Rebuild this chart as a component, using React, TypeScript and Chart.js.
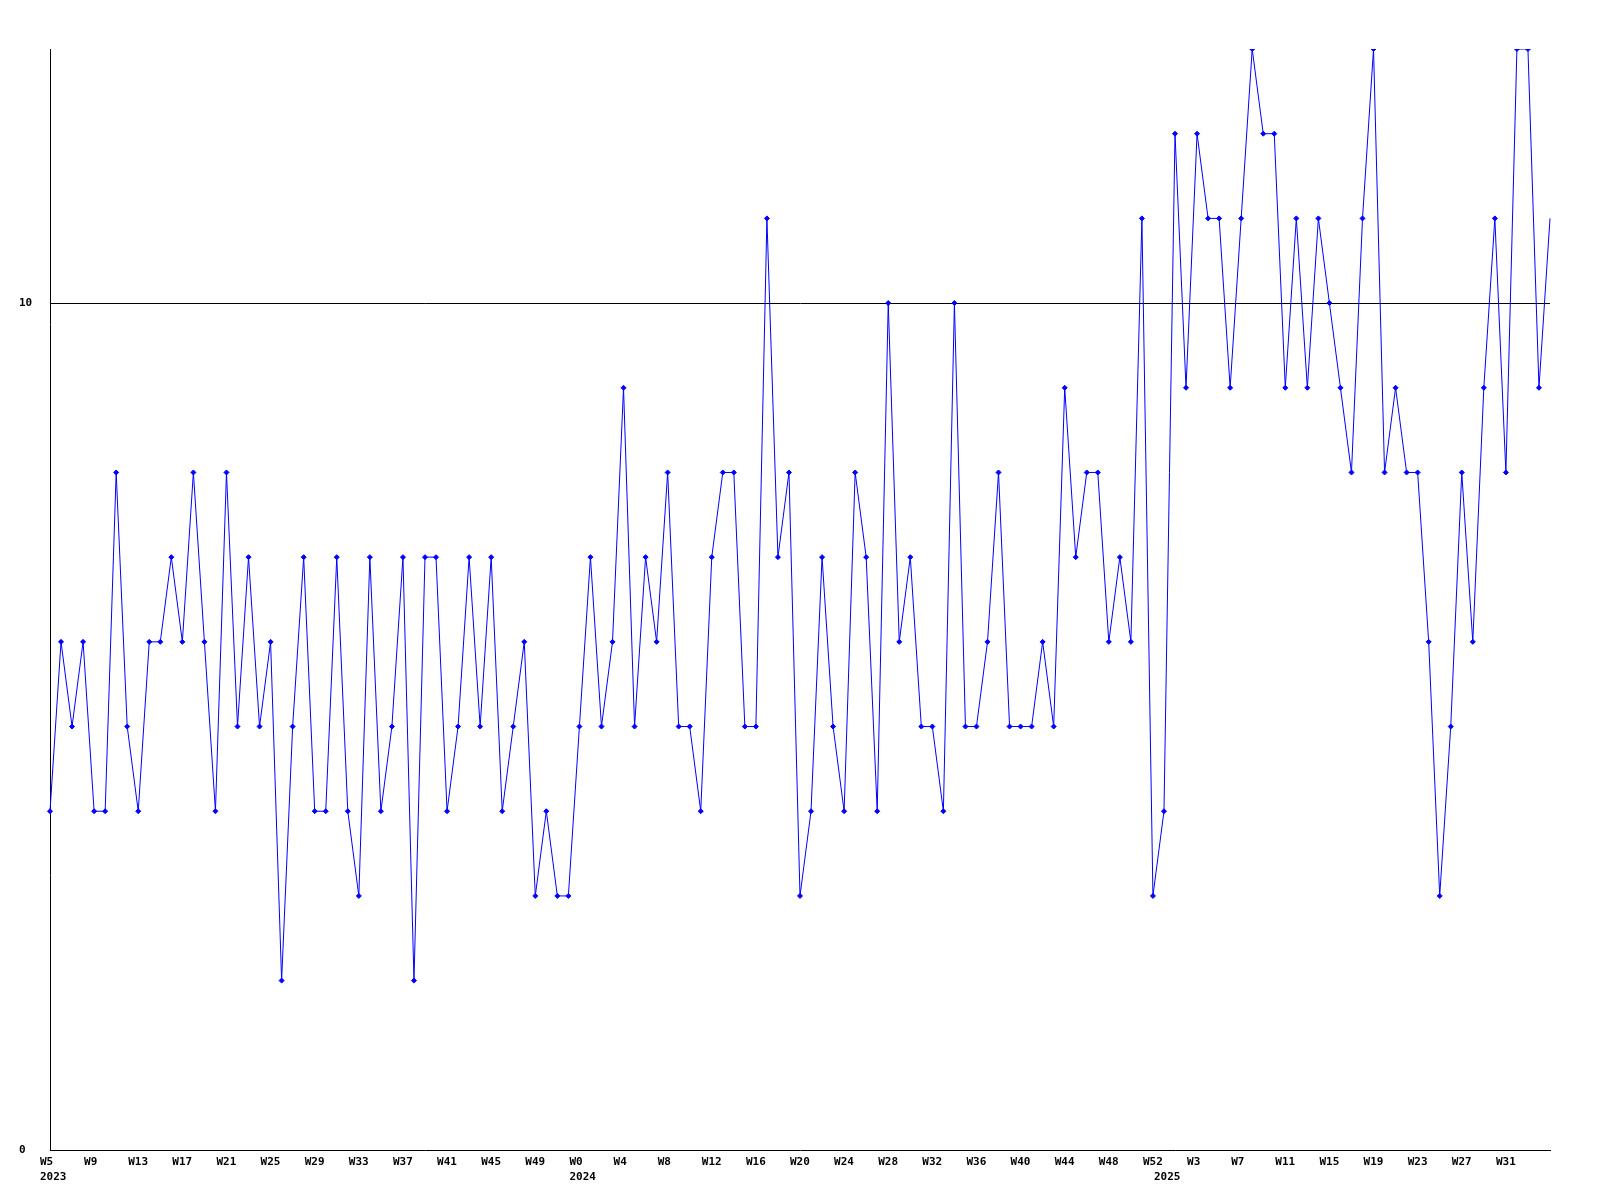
import React, { useEffect, useRef } from "react";
import { Chart, registerables } from "chart.js";

Chart.register(...registerables);

// Year segments of the weekly x axis
const years = ["2023", "2024", "2025"];
const firstWeeks = [5, 0, 0];
const weekCounts = [48, 53, 36];

// Weekly values
const values = [
  4, 6, 5, 6, 4, 4, 8, 5, 4, 6, 6, 7, 6, 8, 6, 4, 8, 5, 7, 5, 6, 2, 5, 7, 4, 4, 7, 4,
  3, 7, 4, 5, 7, 2, 7, 7, 4, 5, 7, 5, 7, 4, 5, 6, 3, 4, 3, 3, 5, 7, 5, 6, 9, 5,
  7, 6, 8, 5, 5, 4, 7, 8, 8, 5, 5, 11, 7, 8, 3, 4, 7, 5, 4, 8, 7, 4, 10, 6, 7, 5, 5,
  4, 10, 5, 5, 6, 8, 5, 5, 5, 6, 5, 9, 7, 8, 8, 6, 7, 6, 11, 3, 4, 12, 9, 12, 11, 11, 9,
  11, 13, 12, 12, 9, 11, 9, 11, 10, 9, 8, 11, 13, 8, 9, 8, 8, 6, 3, 5, 8, 6, 9, 11, 8,
  13, 13, 9, 11,
];

const yTickValues = [0, 10];
const yMax = 13;
const labelEvery = 4;

const weekLabels: string[] = [];
const yearLabels: string[] = [];
years.forEach((y, k) => {
  for (let w = 0; w < weekCounts[k]; w++) {
    weekLabels.push("W" + (firstWeeks[k] + w));
    yearLabels.push(w === 0 ? y : "");
  }
});

const FONT = { family: "'DejaVu Sans Mono', monospace", size: 11, weight: "bold" as const, lineHeight: "15px" };

export default function App() {
  const ref = useRef<HTMLCanvasElement>(null);
  useEffect(() => {
    if (!ref.current) return;
    const last = values.length - 1;
    const chart = new Chart(ref.current, {
      type: "line",
      data: {
        labels: weekLabels,
        datasets: [
          {
            data: values,
            borderColor: "#0000ff",
            backgroundColor: "#0000ff",
            borderWidth: 1,
            tension: 0,
            fill: false,
            pointStyle: "rectRot",
            pointRadius: (c: any) => (c.dataIndex === last ? 0 : 2.5),
            pointBorderWidth: 1,
            pointBackgroundColor: "#0000ff",
            pointBorderColor: "#0000ff",
          },
        ],
      },
      options: {
        animation: false,
        responsive: false,
        devicePixelRatio: 1,
        layout: { padding: { left: 19, top: 49, right: 50, bottom: 0 } },
        plugins: { legend: { display: false }, tooltip: { enabled: false } },
        scales: {
          x: {
            type: "category",
            offset: false,
            grid: { display: false, drawTicks: false },
            border: { display: true, color: "#000", width: 1 },
            afterFit: (s: any) => {
              s.height = 50;
            },
            ticks: {
              autoSkip: false,
              maxRotation: 0,
              minRotation: 0,
              align: "start",
              labelOffset: -10,
              padding: 5,
              color: "#000",
              font: FONT,
              callback: (_v: any, i: number) => {
                const wk = i % labelEvery === 0 && i < last ? weekLabels[i] : "";
                const yr = yearLabels[i];
                if (!wk && !yr) return "";
                return [wk, yr];
              },
            },
          },
          y: {
            min: 0,
            max: yMax,
            afterBuildTicks: (s: any) => {
              s.ticks = yTickValues.map((v) => ({ value: v }));
            },
            afterFit: (s: any) => {
              s.width = 31;
            },
            grid: {
              drawTicks: false,
              color: (c: any) => (c.tick && c.tick.value === 10 ? "#000" : "rgba(0,0,0,0)"),
              lineWidth: 1,
            },
            border: { display: true, color: "#000", width: 1 },
            ticks: {
              crossAlign: "far",
              color: "#000",
              font: FONT,
              callback: (v: any) => String(v),
            },
          },
        },
      },
    });
    return () => chart.destroy();
  }, []);
  return (
    <div style={{ position: "absolute", left: 0, top: 0, width: 1600, height: 1200, background: "#fff" }}>
      <canvas ref={ref} width={1600} height={1200} style={{ width: 1600, height: 1200 }} />
    </div>
  );
}
